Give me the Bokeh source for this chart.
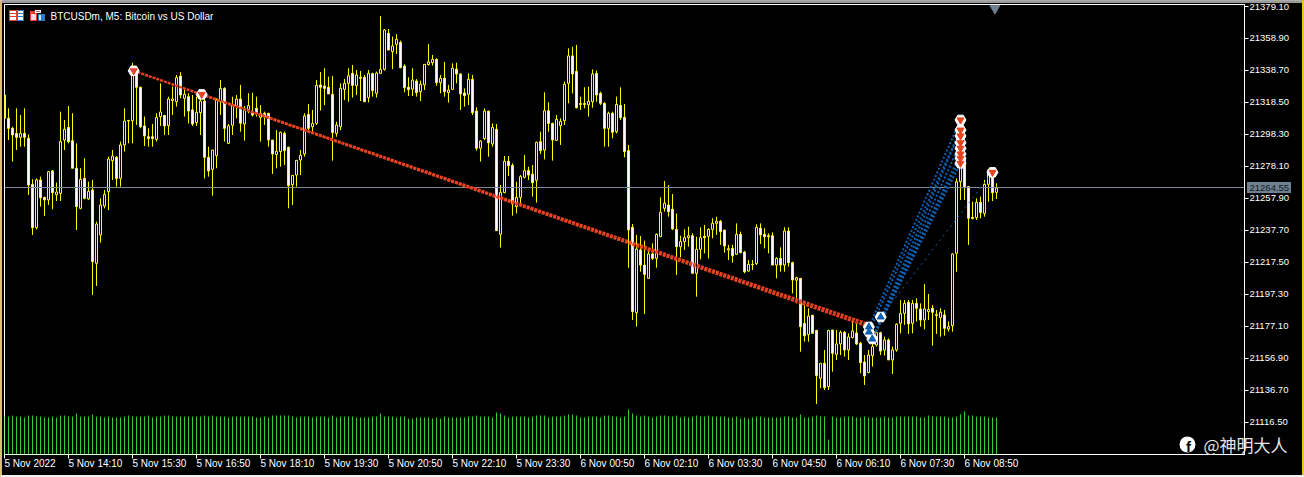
from bokeh.plotting import figure
from bokeh.models import Range1d, FixedTicker, NumeralTickFormatter, ColumnDataSource
from bokeh.core.properties import value
from bokeh.embed import file_html
from bokeh.resources import INLINE

title_text = "BTCUSDm, M5:  Bitcoin vs US Dollar"
last_price = 21264.55
price_ticks = [21379.10, 21358.90, 21338.70, 21318.50, 21298.30, 21278.10, 21257.90,
               21237.70, 21217.50, 21197.30, 21177.10, 21156.90, 21136.70, 21116.50]
time_tick_index = [-1, 15, 31, 47, 63, 79, 95, 111, 127, 143, 159, 175, 191, 207, 223, 239]
time_labels = ["5 Nov 2022", "5 Nov 14:10", "5 Nov 15:30", "5 Nov 16:50", "5 Nov 18:10", "5 Nov 19:30",
               "5 Nov 20:50", "5 Nov 22:10", "5 Nov 23:30", "6 Nov 00:50", "6 Nov 02:10", "6 Nov 03:30",
               "6 Nov 04:50", "6 Nov 06:10", "6 Nov 07:30", "6 Nov 08:50"]

first_bar = -1
highs = [21323.2,21314.8,21303.2,21314.8,21310.6,21314.8,21298.4,21270.0,21270.6,21271.7,21259.0,21275.3,21275.9,21267.9,21312.7,21307.5,21316.3,21311.7,21292.7,21277.0,21283.3,21268.5,21269.6,21243.3,21258.0,21263.3,21284.3,21288.5,21284.7,21293.8,21314.8,21307.5,21343.6,21336.9,21328.5,21309.6,21302.2,21304.9,21311.7,21330.6,21310.6,21322.2,21328.5,21335.9,21337.7,21327.4,21324.3,21323.2,21322.2,21324.3,21323.2,21290.6,21288.5,21321.1,21332.7,21328.1,21304.9,21322.2,21323.2,21329.6,21316.3,21324.3,21324.7,21322.2,21316.9,21312.7,21311.7,21294.8,21301.1,21300.1,21300.1,21290.6,21272.7,21282.2,21288.5,21311.7,21317.6,21313.8,21332.7,21337.7,21340.1,21334.8,
         21335.2,21306.4,21330.6,21333.3,21340.1,21342.2,21339.0,21338.4,21335.9,21339.0,21337.3,21338.0,21373.1,21364.9,21364.9,21360.1,21361.7,21357.5,21342.6,21334.4,21340.1,21333.3,21332.3,21342.8,21355.4,21348.5,21346.4,21335.9,21344.1,21329.6,21343.2,21343.6,21336.9,21327.4,21336.9,21335.9,21315.5,21294.8,21314.8,21313.3,21305.3,21304.9,21266.4,21284.7,21284.7,21280.1,21268.5,21272.7,21285.4,21278.0,21279.0,21293.8,21300.1,21324.9,21318.6,21305.8,21310.6,21308.5,21331.7,21352.7,21353.7,21354.8,21322.2,21328.1,21328.5,21339.4,21338.6,21325.3,21318.6,21312.7,21312.7,21322.2,21328.1,21317.6,21291.7,
         21241.8,21234.9,21234.2,21231.3,21225.4,21229.6,21235.9,21258.6,21268.9,21266.4,21260.7,21248.5,21234.4,21238.4,21240.1,21235.9,21233.8,21239.7,21241.2,21239.1,21245.4,21246.4,21244.3,21238.0,21228.6,21228.6,21242.2,21237.0,21224.8,21219.1,21219.1,21241.6,21242.2,21239.1,21235.9,21236.5,21220.8,21227.1,21239.7,21239.7,21218.0,21208.6,21207.5,21190.7,21188.6,21184.4,21174.9,21153.9,21162.3,21174.9,21174.9,21174.9,21174.5,21174.3,21172.8,21180.2,21179.1,21167.5,21159.1,21162.3,21174.9,21173.8,21173.8,21170.7,21169.6,21164.4,21179.1,21193.8,21193.8,21193.8,21193.8,21194.9,21191.7,21203.9,21197.6,21190.7,21187.5,21188.6,21187.5,21180.2,21223.3,21270.6,21307.5,21283.3,21265.4,21255.9,21258.0,21259.1,21269.6,21276.3,21275.9,21267.5]
lows = [21308.5,21294.8,21281.2,21288.5,21290.6,21290.6,21260.1,21234.9,21238.4,21252.8,21246.9,21253.8,21251.1,21256.3,21256.3,21288.5,21292.7,21277.0,21238.0,21251.1,21257.4,21257.0,21197.0,21202.7,21230.0,21251.7,21250.6,21269.6,21265.4,21265.4,21287.5,21292.7,21292.7,21304.3,21302.2,21291.0,21290.6,21290.6,21293.8,21303.7,21298.0,21298.0,21310.6,21315.9,21321.1,21309.6,21305.3,21303.7,21303.7,21298.0,21270.6,21271.7,21259.7,21277.0,21310.6,21293.8,21292.3,21298.0,21308.5,21300.1,21294.4,21311.7,21309.6,21309.6,21293.8,21304.3,21290.6,21273.4,21277.0,21278.0,21279.0,21251.7,21253.8,21265.4,21272.7,21284.3,21300.1,21299.0,21304.3,21313.4,21316.9,21323.9,
        21281.8,21296.9,21301.1,21320.1,21319.0,21321.6,21323.2,21319.4,21319.0,21318.6,21322.2,21321.6,21336.9,21338.6,21351.6,21339.6,21349.1,21340.1,21324.9,21322.6,21322.6,21322.2,21319.4,21326.4,21341.8,21341.8,21329.1,21324.3,21322.2,21318.4,21326.4,21330.6,21313.8,21315.9,21316.9,21310.6,21288.1,21281.2,21294.8,21284.3,21290.6,21237.6,21226.9,21261.2,21272.1,21247.1,21248.5,21253.8,21270.6,21269.6,21259.1,21255.3,21286.0,21282.6,21300.1,21281.8,21294.4,21291.7,21304.3,21318.0,21324.3,21314.8,21313.8,21314.8,21309.6,21315.2,21319.0,21316.9,21290.6,21290.6,21295.9,21299.0,21307.5,21283.9,21214.2,
        21181.2,21177.0,21211.7,21185.0,21207.5,21219.1,21214.2,21233.8,21249.6,21246.4,21238.0,21209.6,21220.8,21225.4,21227.5,21210.7,21195.9,21219.5,21223.3,21220.1,21232.8,21234.9,21228.6,21223.7,21219.1,21217.4,21222.2,21223.3,21210.7,21211.7,21212.8,21215.9,21229.2,21226.4,21223.3,21215.9,21207.5,21211.7,21211.7,21214.9,21198.0,21191.7,21161.2,21167.5,21167.5,21172.8,21128.2,21138.1,21137.0,21137.0,21148.6,21156.0,21159.1,21158.1,21156.0,21169.6,21165.4,21147.6,21140.2,21147.6,21151.8,21164.4,21159.1,21158.7,21156.0,21147.1,21161.2,21172.8,21178.1,21172.4,21172.8,21180.2,21177.0,21175.3,21181.2,21165.0,21172.4,21170.7,21171.3,21173.8,21173.8,21211.7,21257.0,21257.0,21228.6,21244.8,21244.3,21245.4,21246.4,21255.9,21256.3,21257.6]
opens = [21323.2,21308.5,21302.2,21299.0,21296.5,21299.0,21295.9,21266.8,21239.5,21269.6,21258.6,21257.0,21275.3,21260.3,21261.2,21294.8,21302.8,21294.4,21277.0,21251.7,21270.6,21257.6,21263.3,21217.0,21234.9,21253.2,21262.2,21281.8,21283.9,21270.6,21291.7,21307.2,21307.0,21336.9,21328.1,21303.7,21296.9,21296.9,21295.2,21309.6,21310.4,21303.9,21319.7,21319.0,21335.2,21321.1,21322.2,21313.8,21305.8,21312.1,21319.4,21283.9,21276.3,21285.0,21319.0,21327.4,21292.7,21304.1,21316.5,21320.7,21304.9,21313.8,21312.7,21314.8,21309.1,21311.7,21311.7,21294.8,21285.6,21287.5,21299.0,21290.2,21266.6,21272.7,21282.2,21286.0,21311.0,21303.2,21305.3,21329.6,21328.9,21328.1,
         21323.7,21299.0,21303.2,21326.8,21330.6,21336.9,21329.1,21334.4,21334.4,21321.6,21336.7,21324.3,21336.9,21339.4,21362.2,21350.6,21355.2,21356.5,21341.5,21328.1,21327.0,21332.1,21325.3,21329.6,21342.4,21343.6,21345.7,21331.0,21333.8,21324.7,21326.8,21339.6,21336.5,21324.5,21323.7,21333.1,21313.1,21289.6,21295.7,21313.1,21292.3,21301.6,21235.3,21261.6,21281.4,21278.8,21252.8,21258.6,21271.3,21275.5,21273.2,21269.4,21293.8,21288.5,21313.3,21305.3,21294.6,21303.9,21307.0,21330.6,21347.9,21338.2,21317.8,21317.8,21317.1,21319.0,21336.9,21324.3,21318.0,21302.2,21311.7,21300.1,21316.7,21309.1,21288.1,
         21239.7,21185.8,21225.4,21215.9,21207.5,21222.9,21220.1,21233.8,21251.7,21253.8,21251.1,21238.4,21227.5,21230.7,21233.2,21234.4,21210.7,21225.8,21234.0,21234.0,21238.4,21242.2,21243.5,21238.0,21225.4,21226.4,21222.7,21235.3,21224.1,21212.1,21216.3,21216.8,21239.1,21235.3,21234.4,21234.4,21215.9,21220.1,21215.9,21237.4,21217.4,21206.3,21207.5,21179.1,21172.0,21184.2,21174.7,21144.4,21153.9,21139.1,21174.9,21159.5,21166.1,21173.4,21162.3,21170.1,21173.0,21166.5,21154.7,21148.0,21158.7,21165.4,21173.2,21162.3,21168.6,21156.0,21162.3,21179.1,21185.4,21192.4,21179.1,21191.7,21188.2,21181.2,21186.5,21188.6,21184.0,21182.7,21184.4,21175.5,21177.6,21223.3,21268.5,21283.3,21265.4,21246.0,21245.8,21255.5,21248.5,21266.8,21272.7,21261.8]
closes = [21308.5,21302.2,21298.0,21296.5,21299.0,21296.5,21266.4,21239.5,21269.6,21258.4,21257.0,21274.8,21261.6,21262.0,21293.8,21301.6,21293.8,21277.0,21252.8,21270.0,21258.0,21262.4,21218.0,21241.8,21253.8,21260.5,21282.8,21284.7,21270.6,21291.7,21306.8,21306.8,21336.9,21328.1,21303.2,21297.4,21295.7,21295.7,21309.1,21312.5,21303.7,21320.7,21320.7,21334.2,21323.2,21323.7,21313.1,21304.9,21312.3,21319.4,21283.9,21275.3,21288.5,21320.1,21327.4,21302.2,21303.7,21316.9,21320.7,21305.4,21314.2,21316.5,21310.6,21311.7,21311.7,21309.6,21294.8,21286.0,21287.7,21299.7,21288.1,21266.0,21272.5,21282.0,21285.2,21310.0,21302.2,21305.3,21329.3,21328.1,21327.4,21323.9,
          21299.5,21304.3,21327.4,21330.6,21335.4,21329.3,21335.9,21333.8,21319.0,21336.9,21326.0,21337.1,21339.4,21364.3,21351.6,21354.2,21358.4,21340.5,21327.9,21326.6,21332.7,21324.7,21330.0,21342.6,21344.1,21345.7,21331.0,21333.8,21325.3,21326.4,21340.1,21336.5,21323.9,21322.8,21333.1,21312.1,21289.6,21294.2,21313.1,21293.1,21302.8,21237.6,21261.8,21281.4,21278.6,21254.4,21258.6,21271.7,21275.5,21272.7,21267.9,21293.4,21288.1,21313.3,21305.3,21294.8,21307.9,21306.6,21330.0,21347.9,21336.5,21315.2,21317.3,21317.3,21319.2,21336.5,21323.2,21318.0,21302.2,21311.7,21299.7,21317.3,21308.9,21287.5,21238.0,
          21186.5,21226.0,21215.9,21210.0,21222.9,21220.1,21235.3,21249.2,21254.9,21249.6,21238.7,21227.5,21230.7,21233.2,21234.4,21210.7,21225.8,21233.2,21233.2,21238.4,21242.2,21243.5,21237.0,21227.9,21226.2,21221.8,21235.3,21223.7,21211.7,21216.3,21216.1,21239.7,21234.9,21233.8,21233.8,21215.9,21220.1,21215.9,21237.4,21217.4,21206.5,21207.9,21177.0,21171.3,21183.7,21172.8,21146.1,21153.9,21138.5,21174.7,21160.2,21166.1,21173.4,21162.3,21170.5,21174.3,21166.1,21154.3,21145.9,21159.1,21164.4,21173.2,21161.6,21168.6,21156.0,21162.3,21178.5,21185.4,21191.7,21178.7,21191.7,21188.6,21181.2,21188.2,21187.9,21186.1,21184.8,21186.1,21176.0,21177.0,21222.9,21268.5,21279.0,21265.0,21245.4,21245.2,21255.5,21249.0,21266.8,21275.9,21261.6,21264.55]
tick_volume = [38,38,39,38,38,37,39,39,38,38,37,37,38,37,39,39,38,38,41,38,38,38,40,38,38,37,38,37,37,37,38,39,38,38,38,38,39,37,38,38,39,39,38,38,38,38,38,38,38,38,39,38,39,38,38,38,37,38,38,38,38,38,38,37,37,38,37,39,39,39,39,39,38,37,38,38,38,37,38,38,38,37,
               39,37,38,38,38,38,37,37,37,37,38,38,41,38,38,38,37,38,38,36,36,37,37,37,37,36,37,36,38,37,37,37,37,37,38,38,39,38,38,38,37,42,41,39,37,38,38,38,38,37,38,39,39,39,37,38,38,38,39,40,40,39,37,37,38,38,38,37,39,39,38,38,37,38,45,41,39,38,39,38,37,38,39,39,
               38,38,39,37,38,37,38,39,38,38,39,38,38,38,38,37,37,38,36,37,36,37,38,38,37,37,37,37,37,38,38,37,37,40,37,37,38,39,38,38,15,38,37,37,38,38,38,37,37,38,37,37,37,37,38,37,37,38,38,38,38,38,38,37,37,39,38,38,38,38,37,37,38,40,43,39,39,38,38,38,37,37,37,28]

sell_open_bar = [31.3, 48.3]
sell_open_price = [21338.5, 21323.6]
sell_close_bar = [214.5, 214.5]
sell_close_price = [21177.4, 21179.1]

buy_bars = [215.1, 215.1, 215.95, 218.05]
buy_prices = [21176.8, 21173.6, 21169.2, 21183.1]
exit_bars = [238, 238, 238, 238, 238, 238, 238, 238, 246]
exit_prices = [21307.5, 21301.1, 21297.4, 21293.1, 21289.6, 21286.0, 21283.3, 21280.1, 21274.4]
fan_entry = [0, 1, 2, 2, 2, 2, 2]
fan_exit = [0, 1, 1, 3, 5, 6, 7]

YELLOW = "#FFFF00"
WHITE = "#FFFFFF"
RED = "#E8431F"
BLUE = "#0F5FB0"
GREEN = "#32CD32"
SLATE = "#6F8090"
FONT = "Liberation Sans"

bars = list(range(first_bar, first_bar + len(highs)))
src = ColumnDataSource(dict(
    x=bars, high=highs, low=lows,
    top=[max(o, c) for o, c in zip(opens, closes)],
    bottom=[min(o, c) for o, c in zip(opens, closes)],
    fill=[WHITE if c < o else "#000000" for o, c in zip(opens, closes)],
    vol=tick_volume, zero=[0] * len(bars)))

p = figure(width=1304, height=477, output_backend="svg", toolbar_location=None,
           x_range=Range1d(-1, 309), y_range=Range1d(21096.3, 21380.36),
           y_axis_location="right", background_fill_color="#000000", border_fill_color="#000000",
           min_border_left=4, min_border_right=60, min_border_top=4, min_border_bottom=23,
           styles={"position": "absolute", "left": "0px", "top": "0px"})
p.grid.visible = False
p.outline_line_color = WHITE
p.outline_line_width = 1

p.yaxis.ticker = FixedTicker(ticks=price_ticks)
p.yaxis.formatter = NumeralTickFormatter(format="0.00")
p.yaxis.axis_line_color = WHITE
p.yaxis.major_tick_line_color = WHITE
p.yaxis.major_tick_in = 0
p.yaxis.major_tick_out = 4
p.yaxis.minor_tick_line_color = None
p.yaxis.major_label_standoff = 1
p.yaxis.major_label_text_color = WHITE
p.yaxis.major_label_text_font = FONT
p.yaxis.major_label_text_font_size = "9.5px"

p.xaxis.ticker = FixedTicker(ticks=time_tick_index)
p.xaxis.major_label_overrides = {t: "" for t in time_tick_index}
p.xaxis.axis_line_color = WHITE
p.xaxis.major_tick_line_color = WHITE
p.xaxis.major_tick_in = 0
p.xaxis.major_tick_out = 4
p.xaxis.minor_tick_line_color = None

p.extra_y_ranges = {"volume": Range1d(0, 450)}

p.segment("x", "zero", "x", "vol", source=src, y_range_name="volume", line_color=GREEN, line_width=1)
p.segment("x", "low", "x", "high", source=src, line_color=YELLOW, line_width=1)
p.vbar(x="x", top="top", bottom="bottom", width=0.5, source=src, fill_color="fill", line_color=YELLOW, line_width=1)

p.hspan(y=[last_price], line_color="#808A94", line_width=1)

for x0, y0, x1, y1 in zip(sell_open_bar, sell_open_price, sell_close_bar, sell_close_price):
    p.line([x0, x1], [y0, y1], line_color=RED, line_width=2.5, line_dash="3 1")

fan_x = [[buy_bars[a], exit_bars[b]] for a, b in zip(fan_entry, fan_exit)]
fan_y = [[buy_prices[a], exit_prices[b]] for a, b in zip(fan_entry, fan_exit)]
p.multi_line(fan_x, fan_y, line_color=BLUE, line_width=2, line_dash="2 2")
p.line([buy_bars[3], exit_bars[8]], [buy_prices[3], exit_prices[8]], line_color=BLUE, line_width=1, line_dash="2 4")

red_x = sell_open_bar + exit_bars
red_y = sell_open_price + exit_prices
p.scatter(red_x, red_y, marker="hex", size=11, fill_color=WHITE, line_color=WHITE)
p.scatter(buy_bars, buy_prices, marker="hex", size=11, fill_color=WHITE, line_color=WHITE)
p.scatter(red_x, red_y, marker="inverted_triangle", size=7, fill_color=RED, line_color=RED)
p.scatter(buy_bars, buy_prices, marker="triangle", size=7, fill_color=BLUE, line_color=BLUE)

# chart-shift marker at the top edge
p.scatter([246.6], [21378.0], marker="inverted_triangle", size=10, fill_color=SLATE, line_color=SLATE)

# transparent page-sized layer for the window chrome and the texts outside the plot frame
q = figure(width=1304, height=477, output_backend="svg", toolbar_location=None,
           x_range=Range1d(0, 1304), y_range=Range1d(477, 0), x_axis_type=None, y_axis_type=None,
           background_fill_color=None, border_fill_color=None, outline_line_color=None,
           min_border=0, min_border_left=0, min_border_right=0, min_border_top=0, min_border_bottom=0,
           styles={"position": "absolute", "left": "0px", "top": "0px"})
q.grid.visible = False

def box(l, t, r, b, color):
    q.quad(left=l - 0.5, right=r - 0.5, top=t - 0.5, bottom=b - 0.5, fill_color=color, line_color=None)

def text(x, y, s, color=WHITE, size="10px", font=FONT, align="left", style="normal"):
    q.text([x], [y], text=[s], text_color=color, text_font_size=size, text_font=value(font),
           text_align=align, text_baseline="middle", text_font_style=style)

# window chrome
box(0, 0, 1304, 3, "#9A9A9A")
box(0, 0, 2, 477, "#EFC41E")
box(1302, 0, 1304, 475, "#EFC41E")
box(0, 475, 1304, 477, "#F0F0F0")

# toolbar-like icons
box(9, 10, 17, 21, "#E0402A"); box(10, 11, 16, 13, WHITE); box(10, 14, 16, 16, WHITE); box(10, 17, 16, 20, WHITE)
box(17, 10, 24, 21, "#2A78C8"); box(18, 11, 23, 13, WHITE); box(18, 14, 23, 16, WHITE); box(18, 17, 23, 20, WHITE)
box(30, 11, 37, 21, "#E0402A"); box(31, 14, 36, 20, "#FBD8D0")
box(38, 14, 45, 21, "#2A78C8"); box(39, 15, 41, 20, "#CFE4F8")
box(35, 10, 41, 13, WHITE); box(36, 11, 40, 12, "#808080")

text(50, 15.5, title_text)

for t, s in zip(time_tick_index, time_labels):
    text(8 + 4 * t, 463, s)

# last-price tag on the price scale
box(1247, 182, 1291, 193, SLATE)
text(1249, 187.5, f"{last_price:.2f}", color="#101820", size="9.5px")

# watermark
q.scatter([1187], [444], marker="circle", size=16, fill_color=WHITE, line_color=None)
text(1188, 446, "f", color="#000000", size="15px", align="center", style="bold")
text(1203, 444, "@神明大人", color="#E6E6E6", size="17px", font="Noto Sans CJK SC")

open("out.html", "w").write(file_html([p, q], INLINE))
